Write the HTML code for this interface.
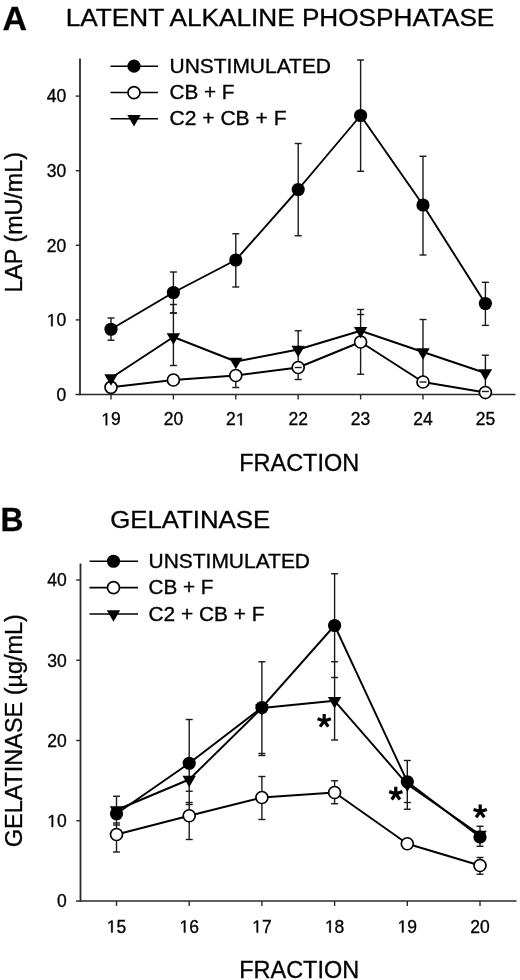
<!DOCTYPE html>
<html><head><meta charset="utf-8"><style>
html,body{margin:0;padding:0;background:#fff;width:520px;height:980px;overflow:hidden}
svg{display:block;font-family:"Liberation Sans", sans-serif;filter:blur(0.3px);}
text{fill:#000}
</style></head><body>
<svg width="520" height="980" viewBox="0 0 520 980">
<text x="2.60" y="29.70" font-size="34" text-anchor="start" font-weight="bold" textLength="24.5" lengthAdjust="spacingAndGlyphs" stroke="#000" stroke-width="0.3">A</text>
<text x="65.80" y="25.60" font-size="24.3" text-anchor="start" font-weight="normal" textLength="428.5" lengthAdjust="spacingAndGlyphs" stroke="#000" stroke-width="0.32">LATENT ALKALINE PHOSPHATASE</text>
<line x1="80.00" y1="58.50" x2="80.00" y2="395.20" stroke="#2a2a2a" stroke-width="1.8"/>
<line x1="75.50" y1="394.50" x2="515.50" y2="394.50" stroke="#2a2a2a" stroke-width="1.6"/>
<line x1="75.70" y1="319.90" x2="80.00" y2="319.90" stroke="#2a2a2a" stroke-width="1.4"/>
<text x="46.73" y="326.20" font-size="17.5" text-anchor="start" font-weight="normal" stroke="#000" stroke-width="0.32"> 0</text>
<path transform="translate(46.73,326.20) scale(0.008545,-0.008545)" d="M515,0 L696,0 L696,1409 L530,1409 L197,1180 L197,1010 L515,1237 Z" fill="#000" stroke="#000" stroke-width="37.4"/>
<line x1="75.70" y1="245.30" x2="80.00" y2="245.30" stroke="#2a2a2a" stroke-width="1.4"/>
<text x="46.73" y="251.60" font-size="17.5" text-anchor="start" font-weight="normal" stroke="#000" stroke-width="0.32">20</text>
<line x1="75.70" y1="170.70" x2="80.00" y2="170.70" stroke="#2a2a2a" stroke-width="1.4"/>
<text x="46.73" y="177.00" font-size="17.5" text-anchor="start" font-weight="normal" stroke="#000" stroke-width="0.32">30</text>
<line x1="75.70" y1="96.10" x2="80.00" y2="96.10" stroke="#2a2a2a" stroke-width="1.4"/>
<text x="46.73" y="102.40" font-size="17.5" text-anchor="start" font-weight="normal" stroke="#000" stroke-width="0.32">40</text>
<text x="56.47" y="400.80" font-size="17.5" text-anchor="start" font-weight="normal" stroke="#000" stroke-width="0.32">0</text>
<line x1="111.00" y1="394.50" x2="111.00" y2="399.50" stroke="#2a2a2a" stroke-width="1.4"/>
<text x="101.27" y="425.30" font-size="17.5" text-anchor="start" font-weight="normal" stroke="#000" stroke-width="0.32"> 9</text>
<path transform="translate(101.27,425.30) scale(0.008545,-0.008545)" d="M515,0 L696,0 L696,1409 L530,1409 L197,1180 L197,1010 L515,1237 Z" fill="#000" stroke="#000" stroke-width="37.4"/>
<line x1="173.40" y1="394.50" x2="173.40" y2="399.50" stroke="#2a2a2a" stroke-width="1.4"/>
<text x="163.67" y="425.30" font-size="17.5" text-anchor="start" font-weight="normal" stroke="#000" stroke-width="0.32">20</text>
<line x1="235.80" y1="394.50" x2="235.80" y2="399.50" stroke="#2a2a2a" stroke-width="1.4"/>
<text x="226.07" y="425.30" font-size="17.5" text-anchor="start" font-weight="normal" stroke="#000" stroke-width="0.32">2 </text>
<path transform="translate(235.80,425.30) scale(0.008545,-0.008545)" d="M515,0 L696,0 L696,1409 L530,1409 L197,1180 L197,1010 L515,1237 Z" fill="#000" stroke="#000" stroke-width="37.4"/>
<line x1="298.20" y1="394.50" x2="298.20" y2="399.50" stroke="#2a2a2a" stroke-width="1.4"/>
<text x="288.47" y="425.30" font-size="17.5" text-anchor="start" font-weight="normal" stroke="#000" stroke-width="0.32">22</text>
<line x1="360.60" y1="394.50" x2="360.60" y2="399.50" stroke="#2a2a2a" stroke-width="1.4"/>
<text x="350.87" y="425.30" font-size="17.5" text-anchor="start" font-weight="normal" stroke="#000" stroke-width="0.32">23</text>
<line x1="423.00" y1="394.50" x2="423.00" y2="399.50" stroke="#2a2a2a" stroke-width="1.4"/>
<text x="413.27" y="425.30" font-size="17.5" text-anchor="start" font-weight="normal" stroke="#000" stroke-width="0.32">24</text>
<line x1="485.40" y1="394.50" x2="485.40" y2="399.50" stroke="#2a2a2a" stroke-width="1.4"/>
<text x="475.67" y="425.30" font-size="17.5" text-anchor="start" font-weight="normal" stroke="#000" stroke-width="0.32">25</text>
<text x="239.20" y="470.80" font-size="23.3" text-anchor="start" font-weight="normal" textLength="120" lengthAdjust="spacingAndGlyphs" stroke="#000" stroke-width="0.32">FRACTION</text>
<text transform="translate(22,292.6) rotate(-90)" font-size="23.5" textLength="140.5" lengthAdjust="spacingAndGlyphs" stroke="#000" stroke-width="0.32">LAP (mU/mL)</text>
<line x1="110.50" y1="66.20" x2="158.00" y2="66.20" stroke="#000" stroke-width="1.6"/>
<circle cx="134.00" cy="66.20" r="6.6" fill="#000"/>
<text x="169.50" y="72.80" font-size="19.5" text-anchor="start" font-weight="normal" textLength="161.5" lengthAdjust="spacingAndGlyphs" stroke="#000" stroke-width="0.32">UNSTIMULATED</text>
<line x1="110.50" y1="92.50" x2="158.00" y2="92.50" stroke="#000" stroke-width="1.6"/>
<circle cx="134.00" cy="92.70" r="6.0" fill="#fff" stroke="#000" stroke-width="1.7"/>
<text x="169.50" y="99.10" font-size="19.5" text-anchor="start" font-weight="normal" textLength="65" lengthAdjust="spacingAndGlyphs" stroke="#000" stroke-width="0.32">CB + F</text>
<line x1="110.50" y1="118.80" x2="158.00" y2="118.80" stroke="#000" stroke-width="1.6"/>
<path d="M127.30,114.93 L140.70,114.93 L134.00,126.53 Z" fill="#000"/>
<text x="169.50" y="125.40" font-size="19.5" text-anchor="start" font-weight="normal" textLength="117" lengthAdjust="spacingAndGlyphs" stroke="#000" stroke-width="0.32">C2 + CB + F</text>
<line x1="111.00" y1="318.00" x2="111.00" y2="340.25" stroke="#1a1a1a" stroke-width="1.4"/>
<line x1="107.50" y1="318.00" x2="114.50" y2="318.00" stroke="#1a1a1a" stroke-width="1.4"/>
<line x1="107.50" y1="340.25" x2="114.50" y2="340.25" stroke="#1a1a1a" stroke-width="1.4"/>
<line x1="173.40" y1="272.00" x2="173.40" y2="313.00" stroke="#1a1a1a" stroke-width="1.4"/>
<line x1="169.90" y1="272.00" x2="176.90" y2="272.00" stroke="#1a1a1a" stroke-width="1.4"/>
<line x1="169.90" y1="313.00" x2="176.90" y2="313.00" stroke="#1a1a1a" stroke-width="1.4"/>
<line x1="235.80" y1="233.75" x2="235.80" y2="287.00" stroke="#1a1a1a" stroke-width="1.4"/>
<line x1="232.30" y1="233.75" x2="239.30" y2="233.75" stroke="#1a1a1a" stroke-width="1.4"/>
<line x1="232.30" y1="287.00" x2="239.30" y2="287.00" stroke="#1a1a1a" stroke-width="1.4"/>
<line x1="298.20" y1="143.50" x2="298.20" y2="235.75" stroke="#1a1a1a" stroke-width="1.4"/>
<line x1="294.70" y1="143.50" x2="301.70" y2="143.50" stroke="#1a1a1a" stroke-width="1.4"/>
<line x1="294.70" y1="235.75" x2="301.70" y2="235.75" stroke="#1a1a1a" stroke-width="1.4"/>
<line x1="360.60" y1="60.00" x2="360.60" y2="171.25" stroke="#1a1a1a" stroke-width="1.4"/>
<line x1="357.10" y1="60.00" x2="364.10" y2="60.00" stroke="#1a1a1a" stroke-width="1.4"/>
<line x1="357.10" y1="171.25" x2="364.10" y2="171.25" stroke="#1a1a1a" stroke-width="1.4"/>
<line x1="423.00" y1="156.25" x2="423.00" y2="255.00" stroke="#1a1a1a" stroke-width="1.4"/>
<line x1="419.50" y1="156.25" x2="426.50" y2="156.25" stroke="#1a1a1a" stroke-width="1.4"/>
<line x1="419.50" y1="255.00" x2="426.50" y2="255.00" stroke="#1a1a1a" stroke-width="1.4"/>
<line x1="485.40" y1="282.30" x2="485.40" y2="325.40" stroke="#1a1a1a" stroke-width="1.4"/>
<line x1="481.90" y1="282.30" x2="488.90" y2="282.30" stroke="#1a1a1a" stroke-width="1.4"/>
<line x1="481.90" y1="325.40" x2="488.90" y2="325.40" stroke="#1a1a1a" stroke-width="1.4"/>
<line x1="173.40" y1="304.50" x2="173.40" y2="365.50" stroke="#1a1a1a" stroke-width="1.4"/>
<line x1="169.90" y1="304.50" x2="176.90" y2="304.50" stroke="#1a1a1a" stroke-width="1.4"/>
<line x1="169.90" y1="365.50" x2="176.90" y2="365.50" stroke="#1a1a1a" stroke-width="1.4"/>
<line x1="169.90" y1="313.00" x2="176.90" y2="313.00" stroke="#1a1a1a" stroke-width="1.4"/>
<line x1="235.80" y1="375.50" x2="235.80" y2="387.50" stroke="#1a1a1a" stroke-width="1.4"/>
<line x1="232.30" y1="375.50" x2="239.30" y2="375.50" stroke="#1a1a1a" stroke-width="1.4"/>
<line x1="232.30" y1="387.50" x2="239.30" y2="387.50" stroke="#1a1a1a" stroke-width="1.4"/>
<line x1="298.20" y1="330.75" x2="298.20" y2="379.50" stroke="#1a1a1a" stroke-width="1.4"/>
<line x1="294.70" y1="330.75" x2="301.70" y2="330.75" stroke="#1a1a1a" stroke-width="1.4"/>
<line x1="294.70" y1="379.50" x2="301.70" y2="379.50" stroke="#1a1a1a" stroke-width="1.4"/>
<line x1="360.60" y1="309.50" x2="360.60" y2="374.25" stroke="#1a1a1a" stroke-width="1.4"/>
<line x1="357.10" y1="309.50" x2="364.10" y2="309.50" stroke="#1a1a1a" stroke-width="1.4"/>
<line x1="357.10" y1="374.25" x2="364.10" y2="374.25" stroke="#1a1a1a" stroke-width="1.4"/>
<line x1="357.10" y1="314.50" x2="364.10" y2="314.50" stroke="#1a1a1a" stroke-width="1.4"/>
<line x1="423.00" y1="319.50" x2="423.00" y2="382.00" stroke="#1a1a1a" stroke-width="1.4"/>
<line x1="419.50" y1="319.50" x2="426.50" y2="319.50" stroke="#1a1a1a" stroke-width="1.4"/>
<line x1="419.50" y1="382.00" x2="426.50" y2="382.00" stroke="#1a1a1a" stroke-width="1.4"/>
<line x1="485.40" y1="355.20" x2="485.40" y2="392.00" stroke="#1a1a1a" stroke-width="1.4"/>
<line x1="481.90" y1="355.20" x2="488.90" y2="355.20" stroke="#1a1a1a" stroke-width="1.4"/>
<line x1="481.90" y1="392.00" x2="488.90" y2="392.00" stroke="#1a1a1a" stroke-width="1.4"/>
<polyline points="111.00,329.25 173.40,292.50 235.80,260.00 298.20,189.50 360.60,115.50 423.00,205.00 485.40,303.50" fill="none" stroke="#000" stroke-width="1.9" stroke-linejoin="round"/>
<polyline points="111.00,387.30 173.40,380.00 235.80,375.50 298.20,367.50 360.60,342.00 423.00,382.00 485.40,392.50" fill="none" stroke="#000" stroke-width="1.9" stroke-linejoin="round"/>
<polyline points="111.00,378.00 173.40,337.00 235.80,361.50 298.20,349.50 360.60,330.75 423.00,352.00 485.40,373.00" fill="none" stroke="#000" stroke-width="1.9" stroke-linejoin="round"/>
<circle cx="111.00" cy="329.25" r="6.6" fill="#000"/>
<circle cx="173.40" cy="292.50" r="6.6" fill="#000"/>
<circle cx="235.80" cy="260.00" r="6.6" fill="#000"/>
<circle cx="298.20" cy="189.50" r="6.6" fill="#000"/>
<circle cx="360.60" cy="115.50" r="6.6" fill="#000"/>
<circle cx="423.00" cy="205.00" r="6.6" fill="#000"/>
<circle cx="485.40" cy="303.50" r="6.6" fill="#000"/>
<circle cx="111.00" cy="387.30" r="6.0" fill="#fff" stroke="#000" stroke-width="1.7"/>
<circle cx="173.40" cy="380.00" r="6.0" fill="#fff" stroke="#000" stroke-width="1.7"/>
<circle cx="235.80" cy="375.50" r="6.0" fill="#fff" stroke="#000" stroke-width="1.7"/>
<circle cx="298.20" cy="367.50" r="6.0" fill="#fff" stroke="#000" stroke-width="1.7"/>
<circle cx="360.60" cy="342.00" r="6.0" fill="#fff" stroke="#000" stroke-width="1.7"/>
<circle cx="423.00" cy="382.00" r="6.0" fill="#fff" stroke="#000" stroke-width="1.7"/>
<circle cx="485.40" cy="392.50" r="6.0" fill="#fff" stroke="#000" stroke-width="1.7"/>
<path d="M104.30,374.13 L117.70,374.13 L111.00,385.73 Z" fill="#000"/>
<path d="M166.70,333.13 L180.10,333.13 L173.40,344.73 Z" fill="#000"/>
<path d="M229.10,357.63 L242.50,357.63 L235.80,369.23 Z" fill="#000"/>
<path d="M291.50,345.63 L304.90,345.63 L298.20,357.23 Z" fill="#000"/>
<path d="M353.90,326.88 L367.30,326.88 L360.60,338.48 Z" fill="#000"/>
<path d="M416.30,348.13 L429.70,348.13 L423.00,359.73 Z" fill="#000"/>
<path d="M478.70,369.13 L492.10,369.13 L485.40,380.73 Z" fill="#000"/>
<line x1="294.70" y1="367.50" x2="301.70" y2="367.50" stroke="#1a1a1a" stroke-width="1.4"/>
<line x1="419.50" y1="382.00" x2="426.50" y2="382.00" stroke="#1a1a1a" stroke-width="1.4"/>
<line x1="481.90" y1="391.50" x2="488.90" y2="391.50" stroke="#1a1a1a" stroke-width="1.4"/>
<text x="0.50" y="530.50" font-size="34" text-anchor="start" font-weight="bold" textLength="23" lengthAdjust="spacingAndGlyphs" stroke="#000" stroke-width="0.3">B</text>
<text x="110.20" y="527.90" font-size="24.3" text-anchor="start" font-weight="normal" textLength="160" lengthAdjust="spacingAndGlyphs" stroke="#000" stroke-width="0.32">GELATINASE</text>
<line x1="80.50" y1="563.50" x2="80.50" y2="901.70" stroke="#2a2a2a" stroke-width="1.8"/>
<line x1="76.00" y1="901.00" x2="516.50" y2="901.00" stroke="#2a2a2a" stroke-width="1.6"/>
<line x1="76.20" y1="820.75" x2="80.50" y2="820.75" stroke="#2a2a2a" stroke-width="1.4"/>
<text x="47.23" y="827.05" font-size="17.5" text-anchor="start" font-weight="normal" stroke="#000" stroke-width="0.32"> 0</text>
<path transform="translate(47.23,827.05) scale(0.008545,-0.008545)" d="M515,0 L696,0 L696,1409 L530,1409 L197,1180 L197,1010 L515,1237 Z" fill="#000" stroke="#000" stroke-width="37.4"/>
<line x1="76.20" y1="740.50" x2="80.50" y2="740.50" stroke="#2a2a2a" stroke-width="1.4"/>
<text x="47.23" y="746.80" font-size="17.5" text-anchor="start" font-weight="normal" stroke="#000" stroke-width="0.32">20</text>
<line x1="76.20" y1="660.25" x2="80.50" y2="660.25" stroke="#2a2a2a" stroke-width="1.4"/>
<text x="47.23" y="666.55" font-size="17.5" text-anchor="start" font-weight="normal" stroke="#000" stroke-width="0.32">30</text>
<line x1="76.20" y1="580.00" x2="80.50" y2="580.00" stroke="#2a2a2a" stroke-width="1.4"/>
<text x="47.23" y="586.30" font-size="17.5" text-anchor="start" font-weight="normal" stroke="#000" stroke-width="0.32">40</text>
<text x="56.97" y="907.30" font-size="17.5" text-anchor="start" font-weight="normal" stroke="#000" stroke-width="0.32">0</text>
<line x1="116.50" y1="901.00" x2="116.50" y2="906.00" stroke="#2a2a2a" stroke-width="1.4"/>
<text x="106.77" y="932.60" font-size="17.5" text-anchor="start" font-weight="normal" stroke="#000" stroke-width="0.32"> 5</text>
<path transform="translate(106.77,932.60) scale(0.008545,-0.008545)" d="M515,0 L696,0 L696,1409 L530,1409 L197,1180 L197,1010 L515,1237 Z" fill="#000" stroke="#000" stroke-width="37.4"/>
<line x1="189.20" y1="901.00" x2="189.20" y2="906.00" stroke="#2a2a2a" stroke-width="1.4"/>
<text x="179.47" y="932.60" font-size="17.5" text-anchor="start" font-weight="normal" stroke="#000" stroke-width="0.32"> 6</text>
<path transform="translate(179.47,932.60) scale(0.008545,-0.008545)" d="M515,0 L696,0 L696,1409 L530,1409 L197,1180 L197,1010 L515,1237 Z" fill="#000" stroke="#000" stroke-width="37.4"/>
<line x1="261.90" y1="901.00" x2="261.90" y2="906.00" stroke="#2a2a2a" stroke-width="1.4"/>
<text x="252.17" y="932.60" font-size="17.5" text-anchor="start" font-weight="normal" stroke="#000" stroke-width="0.32"> 7</text>
<path transform="translate(252.17,932.60) scale(0.008545,-0.008545)" d="M515,0 L696,0 L696,1409 L530,1409 L197,1180 L197,1010 L515,1237 Z" fill="#000" stroke="#000" stroke-width="37.4"/>
<line x1="334.60" y1="901.00" x2="334.60" y2="906.00" stroke="#2a2a2a" stroke-width="1.4"/>
<text x="324.87" y="932.60" font-size="17.5" text-anchor="start" font-weight="normal" stroke="#000" stroke-width="0.32"> 8</text>
<path transform="translate(324.87,932.60) scale(0.008545,-0.008545)" d="M515,0 L696,0 L696,1409 L530,1409 L197,1180 L197,1010 L515,1237 Z" fill="#000" stroke="#000" stroke-width="37.4"/>
<line x1="407.30" y1="901.00" x2="407.30" y2="906.00" stroke="#2a2a2a" stroke-width="1.4"/>
<text x="397.57" y="932.60" font-size="17.5" text-anchor="start" font-weight="normal" stroke="#000" stroke-width="0.32"> 9</text>
<path transform="translate(397.57,932.60) scale(0.008545,-0.008545)" d="M515,0 L696,0 L696,1409 L530,1409 L197,1180 L197,1010 L515,1237 Z" fill="#000" stroke="#000" stroke-width="37.4"/>
<line x1="480.00" y1="901.00" x2="480.00" y2="906.00" stroke="#2a2a2a" stroke-width="1.4"/>
<text x="470.27" y="932.60" font-size="17.5" text-anchor="start" font-weight="normal" stroke="#000" stroke-width="0.32">20</text>
<text x="239.20" y="977.60" font-size="23.3" text-anchor="start" font-weight="normal" textLength="120" lengthAdjust="spacingAndGlyphs" stroke="#000" stroke-width="0.32">FRACTION</text>
<text transform="translate(22,847.2) rotate(-90)" font-size="23.5" textLength="233" lengthAdjust="spacingAndGlyphs" stroke="#000" stroke-width="0.32">GELATINASE (&#181;g/mL)</text>
<line x1="89.50" y1="561.25" x2="138.00" y2="561.25" stroke="#000" stroke-width="1.6"/>
<circle cx="113.50" cy="561.25" r="6.6" fill="#000"/>
<text x="148.50" y="567.85" font-size="19.5" text-anchor="start" font-weight="normal" textLength="161.5" lengthAdjust="spacingAndGlyphs" stroke="#000" stroke-width="0.32">UNSTIMULATED</text>
<line x1="89.50" y1="587.65" x2="138.00" y2="587.65" stroke="#000" stroke-width="1.6"/>
<circle cx="113.50" cy="587.65" r="6.0" fill="#fff" stroke="#000" stroke-width="1.7"/>
<text x="148.50" y="594.25" font-size="19.5" text-anchor="start" font-weight="normal" textLength="65" lengthAdjust="spacingAndGlyphs" stroke="#000" stroke-width="0.32">CB + F</text>
<line x1="89.50" y1="614.05" x2="138.00" y2="614.05" stroke="#000" stroke-width="1.6"/>
<path d="M106.80,610.18 L120.20,610.18 L113.50,621.78 Z" fill="#000"/>
<text x="148.50" y="620.65" font-size="19.5" text-anchor="start" font-weight="normal" textLength="116" lengthAdjust="spacingAndGlyphs" stroke="#000" stroke-width="0.32">C2 + CB + F</text>
<line x1="116.50" y1="796.25" x2="116.50" y2="852.00" stroke="#1a1a1a" stroke-width="1.4"/>
<line x1="113.00" y1="796.25" x2="120.00" y2="796.25" stroke="#1a1a1a" stroke-width="1.4"/>
<line x1="113.00" y1="852.00" x2="120.00" y2="852.00" stroke="#1a1a1a" stroke-width="1.4"/>
<line x1="113.00" y1="823.00" x2="120.00" y2="823.00" stroke="#1a1a1a" stroke-width="1.4"/>
<line x1="113.00" y1="825.00" x2="120.00" y2="825.00" stroke="#1a1a1a" stroke-width="1.4"/>
<line x1="189.20" y1="719.50" x2="189.20" y2="839.50" stroke="#1a1a1a" stroke-width="1.4"/>
<line x1="185.70" y1="719.50" x2="192.70" y2="719.50" stroke="#1a1a1a" stroke-width="1.4"/>
<line x1="185.70" y1="839.50" x2="192.70" y2="839.50" stroke="#1a1a1a" stroke-width="1.4"/>
<line x1="185.70" y1="791.25" x2="192.70" y2="791.25" stroke="#1a1a1a" stroke-width="1.4"/>
<line x1="185.70" y1="802.50" x2="192.70" y2="802.50" stroke="#1a1a1a" stroke-width="1.4"/>
<line x1="185.70" y1="804.50" x2="192.70" y2="804.50" stroke="#1a1a1a" stroke-width="1.4"/>
<line x1="261.90" y1="661.75" x2="261.90" y2="755.50" stroke="#1a1a1a" stroke-width="1.4"/>
<line x1="258.40" y1="661.75" x2="265.40" y2="661.75" stroke="#1a1a1a" stroke-width="1.4"/>
<line x1="258.40" y1="755.50" x2="265.40" y2="755.50" stroke="#1a1a1a" stroke-width="1.4"/>
<line x1="258.40" y1="753.50" x2="265.40" y2="753.50" stroke="#1a1a1a" stroke-width="1.4"/>
<line x1="261.90" y1="776.50" x2="261.90" y2="819.50" stroke="#1a1a1a" stroke-width="1.4"/>
<line x1="258.40" y1="776.50" x2="265.40" y2="776.50" stroke="#1a1a1a" stroke-width="1.4"/>
<line x1="258.40" y1="819.50" x2="265.40" y2="819.50" stroke="#1a1a1a" stroke-width="1.4"/>
<line x1="334.60" y1="573.75" x2="334.60" y2="740.00" stroke="#1a1a1a" stroke-width="1.4"/>
<line x1="331.10" y1="573.75" x2="338.10" y2="573.75" stroke="#1a1a1a" stroke-width="1.4"/>
<line x1="331.10" y1="740.00" x2="338.10" y2="740.00" stroke="#1a1a1a" stroke-width="1.4"/>
<line x1="331.10" y1="661.75" x2="338.10" y2="661.75" stroke="#1a1a1a" stroke-width="1.4"/>
<line x1="331.10" y1="677.50" x2="338.10" y2="677.50" stroke="#1a1a1a" stroke-width="1.4"/>
<line x1="334.60" y1="780.75" x2="334.60" y2="803.75" stroke="#1a1a1a" stroke-width="1.4"/>
<line x1="331.10" y1="780.75" x2="338.10" y2="780.75" stroke="#1a1a1a" stroke-width="1.4"/>
<line x1="331.10" y1="803.75" x2="338.10" y2="803.75" stroke="#1a1a1a" stroke-width="1.4"/>
<line x1="407.30" y1="760.50" x2="407.30" y2="809.25" stroke="#1a1a1a" stroke-width="1.4"/>
<line x1="403.80" y1="760.50" x2="410.80" y2="760.50" stroke="#1a1a1a" stroke-width="1.4"/>
<line x1="403.80" y1="809.25" x2="410.80" y2="809.25" stroke="#1a1a1a" stroke-width="1.4"/>
<line x1="403.80" y1="802.50" x2="410.80" y2="802.50" stroke="#1a1a1a" stroke-width="1.4"/>
<line x1="480.00" y1="826.25" x2="480.00" y2="846.25" stroke="#1a1a1a" stroke-width="1.4"/>
<line x1="476.50" y1="826.25" x2="483.50" y2="826.25" stroke="#1a1a1a" stroke-width="1.4"/>
<line x1="476.50" y1="846.25" x2="483.50" y2="846.25" stroke="#1a1a1a" stroke-width="1.4"/>
<line x1="480.00" y1="857.50" x2="480.00" y2="874.25" stroke="#1a1a1a" stroke-width="1.4"/>
<line x1="476.50" y1="857.50" x2="483.50" y2="857.50" stroke="#1a1a1a" stroke-width="1.4"/>
<line x1="476.50" y1="874.25" x2="483.50" y2="874.25" stroke="#1a1a1a" stroke-width="1.4"/>
<polyline points="116.50,813.75 189.20,763.25 261.90,707.50 334.60,625.50 407.30,781.75 480.00,837.00" fill="none" stroke="#000" stroke-width="1.9" stroke-linejoin="round"/>
<polyline points="116.50,834.50 189.20,815.75 261.90,797.50 334.60,792.50 407.30,843.75 480.00,865.50" fill="none" stroke="#000" stroke-width="1.9" stroke-linejoin="round"/>
<polyline points="116.50,810.00 189.20,779.50 261.90,708.00 334.60,700.80 407.30,784.30 480.00,834.70" fill="none" stroke="#000" stroke-width="1.9" stroke-linejoin="round"/>
<circle cx="116.50" cy="813.75" r="6.6" fill="#000"/>
<circle cx="189.20" cy="763.25" r="6.6" fill="#000"/>
<circle cx="261.90" cy="707.50" r="6.6" fill="#000"/>
<circle cx="334.60" cy="625.50" r="6.6" fill="#000"/>
<circle cx="407.30" cy="781.75" r="6.6" fill="#000"/>
<circle cx="480.00" cy="837.00" r="6.6" fill="#000"/>
<circle cx="116.50" cy="834.50" r="6.0" fill="#fff" stroke="#000" stroke-width="1.7"/>
<circle cx="189.20" cy="815.75" r="6.0" fill="#fff" stroke="#000" stroke-width="1.7"/>
<circle cx="261.90" cy="797.50" r="6.0" fill="#fff" stroke="#000" stroke-width="1.7"/>
<circle cx="334.60" cy="792.50" r="6.0" fill="#fff" stroke="#000" stroke-width="1.7"/>
<circle cx="407.30" cy="843.75" r="6.0" fill="#fff" stroke="#000" stroke-width="1.7"/>
<circle cx="480.00" cy="865.50" r="6.0" fill="#fff" stroke="#000" stroke-width="1.7"/>
<path d="M109.80,806.13 L123.20,806.13 L116.50,817.73 Z" fill="#000"/>
<path d="M182.50,775.63 L195.90,775.63 L189.20,787.23 Z" fill="#000"/>
<path d="M255.20,704.13 L268.60,704.13 L261.90,715.73 Z" fill="#000"/>
<path d="M327.90,696.93 L341.30,696.93 L334.60,708.53 Z" fill="#000"/>
<path d="M400.60,780.43 L414.00,780.43 L407.30,792.03 Z" fill="#000"/>
<path d="M473.30,830.83 L486.70,830.83 L480.00,842.43 Z" fill="#000"/>
<path d="M324.20,721.00 L324.20,714.00 M324.20,721.00 L330.86,718.84 M324.20,721.00 L317.54,718.84 M324.20,721.00 L328.31,726.66 M324.20,721.00 L320.09,726.66 " stroke="#000" stroke-width="3.2" stroke-linecap="butt" fill="none"/>
<path d="M395.80,793.80 L395.80,786.80 M395.80,793.80 L402.46,791.64 M395.80,793.80 L389.14,791.64 M395.80,793.80 L399.91,799.46 M395.80,793.80 L391.69,799.46 " stroke="#000" stroke-width="3.2" stroke-linecap="butt" fill="none"/>
<path d="M480.20,811.60 L480.20,804.60 M480.20,811.60 L486.86,809.44 M480.20,811.60 L473.54,809.44 M480.20,811.60 L484.31,817.26 M480.20,811.60 L476.09,817.26 " stroke="#000" stroke-width="3.2" stroke-linecap="butt" fill="none"/>
</svg>
</body></html>
